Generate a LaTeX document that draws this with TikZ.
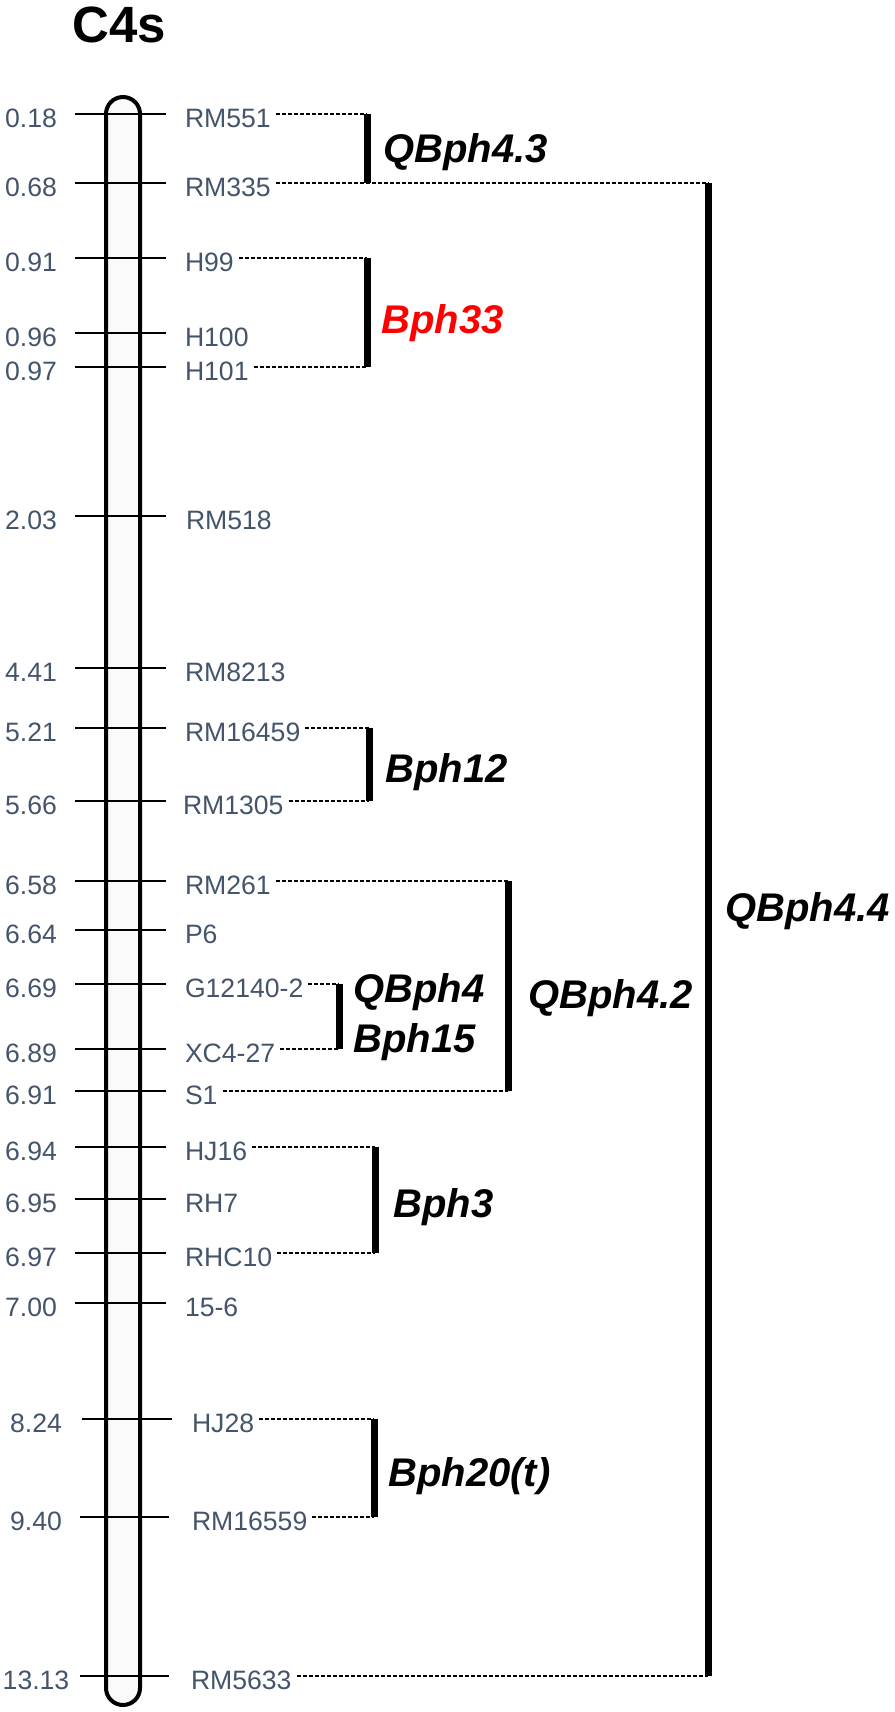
\documentclass[tikz,border=0pt]{standalone}
\usepackage{fontspec}
\setmainfont{Liberation Sans}
\definecolor{slate}{HTML}{44546A}
\begin{document}
\begin{tikzpicture}[x=0.5pt, y=-0.5pt,
		numlbl/.style={text=slate, font=\fontsize{13.3}{13.3}\selectfont, inner sep=0pt},
		mkrlbl/.style={text=slate, font=\fontsize{13.3}{13.3}\selectfont, inner sep=0pt, outer xsep=2.5pt, anchor=west},
		qtl/.style={font=\fontsize{20}{20}\selectfont\bfseries\itshape, inner sep=0pt, anchor=base west},
		tick/.style={line width=1.4pt},
		bar/.style={line width=3.5pt},
		dashline/.style={line width=0.75pt, dash pattern=on 2pt off 1pt}]
	\useasboundingbox (0,0) rectangle (894,1712);
	\node[font=\fontsize{25.5}{25.5}\selectfont\bfseries, inner sep=0pt] (title) at (119,25) {C4s};
	% chromosome
	\draw[line width=2pt, fill=gray!4, rounded corners=8.5pt] (106,97) rectangle (140,1705);

	% markers
	\draw[tick] (75,114) -- (166,114);
	\node[numlbl] (d1) at (31,118) {0.18};
	\node[mkrlbl] (RM551) at (180,118) {RM551};
	\draw[tick] (75,183) -- (166,183);
	\node[numlbl] (d2) at (31,187) {0.68};
	\node[mkrlbl] (RM335) at (180,187) {RM335};
	\draw[tick] (75,258) -- (166,258);
	\node[numlbl] (d3) at (31,262) {0.91};
	\node[mkrlbl] (H99) at (180,262) {H99};
	\draw[tick] (75,333) -- (166,333);
	\node[numlbl] (d4) at (31,337) {0.96};
	\node[mkrlbl] (H100) at (180,337) {H100};
	\draw[tick] (75,367) -- (166,367);
	\node[numlbl] (d5) at (31,371) {0.97};
	\node[mkrlbl] (H101) at (180,371) {H101};
	\draw[tick] (75,516) -- (166,516);
	\node[numlbl] (d6) at (31,520) {2.03};
	\node[mkrlbl] (RM518) at (181,520) {RM518};
	\draw[tick] (75,668) -- (166,668);
	\node[numlbl] (d7) at (31,672) {4.41};
	\node[mkrlbl] (RM8213) at (180,672) {RM8213};
	\draw[tick] (75,728) -- (166,728);
	\node[numlbl] (d8) at (31,732) {5.21};
	\node[mkrlbl] (RM16459) at (180,732) {RM16459};
	\draw[tick] (75,801) -- (166,801);
	\node[numlbl] (d9) at (31,805) {5.66};
	\node[mkrlbl] (RM1305) at (178,805) {RM1305};
	\draw[tick] (75,881) -- (166,881);
	\node[numlbl] (d10) at (31,885) {6.58};
	\node[mkrlbl] (RM261) at (180,885) {RM261};
	\draw[tick] (75,930) -- (166,930);
	\node[numlbl] (d11) at (31,934) {6.64};
	\node[mkrlbl] (P6) at (180,934) {P6};
	\draw[tick] (75,984) -- (166,984);
	\node[numlbl] (d12) at (31,988) {6.69};
	\node[mkrlbl] (G12140) at (180,988) {G12140-2};
	\draw[tick] (75,1049) -- (166,1049);
	\node[numlbl] (d13) at (31,1053) {6.89};
	\node[mkrlbl] (XC427) at (180,1053) {XC4-27};
	\draw[tick] (75,1091) -- (166,1091);
	\node[numlbl] (d14) at (31,1095) {6.91};
	\node[mkrlbl] (S1) at (180,1095) {S1};
	\draw[tick] (75,1147) -- (166,1147);
	\node[numlbl] (d15) at (31,1151) {6.94};
	\node[mkrlbl] (HJ16) at (180,1151) {HJ16};
	\draw[tick] (75,1199) -- (166,1199);
	\node[numlbl] (d16) at (31,1203) {6.95};
	\node[mkrlbl] (RH7) at (180,1203) {RH7};
	\draw[tick] (75,1253) -- (166,1253);
	\node[numlbl] (d17) at (31,1257) {6.97};
	\node[mkrlbl] (RHC10) at (180,1257) {RHC10};
	\draw[tick] (75,1303) -- (166,1303);
	\node[numlbl] (d18) at (31,1307) {7.00};
	\node[mkrlbl] (m156) at (180,1307) {15-6};
	\draw[tick] (82,1419) -- (172,1419);
	\node[numlbl] (d19) at (36,1423) {8.24};
	\node[mkrlbl] (HJ28) at (187,1423) {HJ28};
	\draw[tick] (80,1517) -- (169,1517);
	\node[numlbl] (d20) at (36,1521) {9.40};
	\node[mkrlbl] (RM16559) at (187,1521) {RM16559};
	\draw[tick] (80,1676) -- (169,1676);
	\node[numlbl] (d21) at (36,1680) {13.13};
	\node[mkrlbl] (RM5633) at (186,1680) {RM5633};

	% bracket ends
	\coordinate (q43t) at (367,114);
	\coordinate (q43b) at (367,183);
	\coordinate (b33t) at (367,258);
	\coordinate (b33b) at (367,367);
	\coordinate (b12t) at (369,728);
	\coordinate (b12b) at (369,801);
	\coordinate (q4t) at (339,984);
	\coordinate (q4b) at (339,1049);
	\coordinate (q42t) at (508,881);
	\coordinate (q42b) at (508,1091);
	\coordinate (b3t) at (375,1147);
	\coordinate (b3b) at (375,1253);
	\coordinate (b20t) at (374,1419);
	\coordinate (b20b) at (374,1517);
	\coordinate (q44t) at (708,183);
	\coordinate (q44b) at (708,1676);

	% dashed links
	\draw[dashline] (RM551.east |- q43t) -- (q43t);
	\draw[dashline] (RM335.east |- q44t) -- (q44t);
	\draw[dashline] (H99.east |- b33t) -- (b33t);
	\draw[dashline] (H101.east |- b33b) -- (b33b);
	\draw[dashline] (RM16459.east |- b12t) -- (b12t);
	\draw[dashline] (RM1305.east |- b12b) -- (b12b);
	\draw[dashline] (RM261.east |- q42t) -- (q42t);
	\draw[dashline] (S1.east |- q42b) -- (q42b);
	\draw[dashline] (G12140.east |- q4t) -- (q4t);
	\draw[dashline] (XC427.east |- q4b) -- (q4b);
	\draw[dashline] (HJ16.east |- b3t) -- (b3t);
	\draw[dashline] (RHC10.east |- b3b) -- (b3b);
	\draw[dashline] (HJ28.east |- b20t) -- (b20t);
	\draw[dashline] (RM16559.east |- b20b) -- (b20b);
	\draw[dashline] (RM5633.east |- q44b) -- (q44b);

	% brackets
	\draw[bar] (q43t) -- (q43b);
	\draw[bar] (b33t) -- (b33b);
	\draw[bar] (b12t) -- (b12b);
	\draw[bar] (q4t) -- (q4b);
	\draw[bar] (q42t) -- (q42b);
	\draw[bar] (b3t) -- (b3b);
	\draw[bar] (b20t) -- (b20b);
	\draw[bar] (q44t) -- (q44b);

	% loci
	\node[qtl] (QBph43) at (383,163) {QBph4.3};
	\node[qtl, text=red] (Bph33) at (381,333) {Bph33};
	\node[qtl] (Bph12) at (385,782) {Bph12};
	\node[qtl] (QBph4) at (353,1002) {QBph4};
	\node[qtl] (Bph15) at (353,1052) {Bph15};
	\node[qtl] (QBph42) at (528,1008) {QBph4.2};
	\node[qtl] (QBph44) at (725,921) {QBph4.4};
	\node[qtl] (Bph3) at (393,1217) {Bph3};
	\node[qtl] (Bph20) at (388,1486) {Bph20(t)};
\end{tikzpicture}
\end{document}
